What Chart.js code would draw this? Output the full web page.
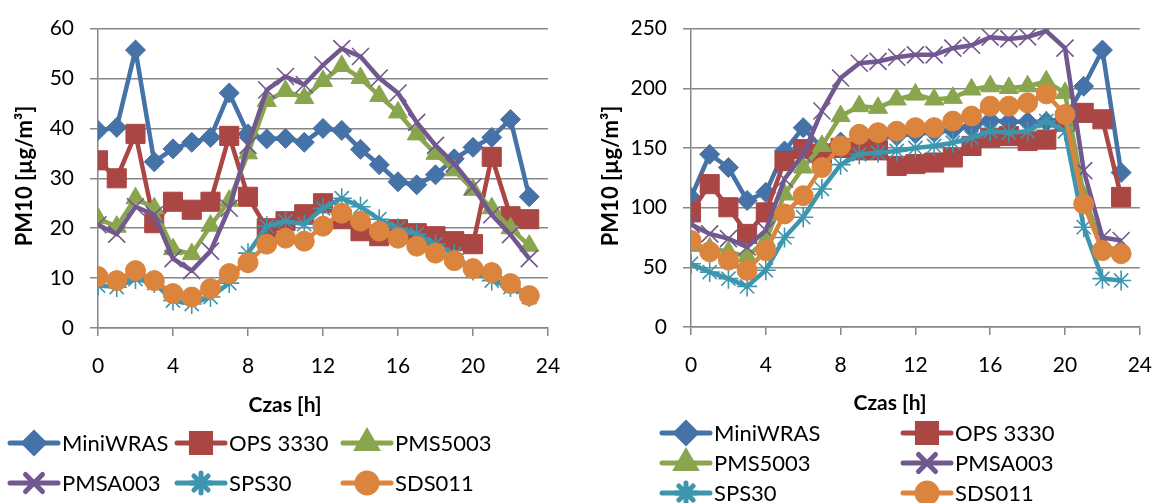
<!DOCTYPE html>
<html lang="pl">
<head>
  <meta charset="UTF-8">
  <title>PM10 – porównanie czujników</title>
  <style>
    html, body { margin: 0; padding: 0; background: #fff; }
    body { width: 1170px; height: 503px; position: relative; overflow: hidden; font-family: Lato, sans-serif; }
    canvas { position: absolute; top: 0; }
    #chartLeft { left: 0; }
    #chartRight { left: 585px; }
  </style>
</head>
<body>
  <canvas id="chartLeft" width="585" height="503"></canvas>
  <canvas id="chartRight" width="585" height="503"></canvas>

  <script src="https://cdn.jsdelivr.net/npm/chart.js"></script>
  <script>
    // hours of the day
    const hours = [0,1,2,3,4,5,6,7,8,9,10,11,12,13,14,15,16,17,18,19,20,21,22,23];
    const seriesNames = ['MiniWRAS', 'OPS 3330', 'PMS5003', 'PMSA003', 'SPS30', 'SDS011'];

    // left chart values (µg/m3)
    const leftMiniWRAS = [39.6,40.2,55.7,33.3,35.9,37.2,38.2,47.1,38.9,37.9,38,37.2,40,39.6,35.8,32.7,29.3,28.7,30.7,33.9,36.2,38.2,41.8,26.3];
    const leftOPS3330  = [33.6,30,38.9,21,25.3,23.7,25.3,38.5,26.3,20,21.4,22.8,25,21.8,19.4,18.4,19.8,19,18.4,17.4,16.8,34.3,22.4,21.8];
    const leftPMS5003  = [22,20.3,26,24,15.8,14.8,20.5,25.5,35,45.5,47.5,46.1,49.5,52.5,50.1,46.5,43.2,38.8,34.9,31.6,27.7,24,20,16.5];
    const leftPMSA003  = [20.7,18.8,24.3,22.7,13.9,11.5,15.4,24,36.6,47.7,50.4,48.8,52.7,56,54.4,50.1,47.1,41.2,36.6,32.9,28.3,22.7,18.7,13.9];
    const leftSPS30    = [8.5,8.2,9.8,9,5.5,4.8,6.2,9,15,20.4,21.4,20.8,24,26,24.3,21.8,20,18.8,16.8,14.8,11.5,9.5,8.2,6.2];
    const leftSDS011   = [10.3,9.5,11.5,9.5,6.9,6.2,7.9,10.9,13.1,16.8,18,17.4,20.4,23,21.4,19.4,18,16.4,15,13.5,11.9,11.1,8.9,6.5];

    // right chart values (µg/m3)
    const rightMiniWRAS = [108.6,144.7,133.6,106,112.8,147.5,167,150,155,157,158,160,162,163,165,168,173,172,172,172,175,201.7,232,129.4];
    const rightOPS3330  = [96,119.7,100.3,78,96,139,149,145,150,148,148,135,136.5,137.8,142,151.7,158.6,160,155.8,157,172,179.4,174,109];
    const rightPMS5003  = [68,66,63,59,72.5,111,133.6,151.7,176.7,185,183.6,190.6,194.7,190.6,192,199,201.7,200.3,201.7,205.8,196,110,68,64];
    const rightPMSA003  = [86,78,74,67,81,124,144.7,181,208.6,221,222.5,226,228,228,233.6,236,242.8,241.4,243,248,233.6,131,75,72.5];
    const rightSPS30    = [53,46,40.5,34,47.5,75,92,115.6,136,144.7,146,147.5,150,151.7,154.4,158.6,164,162.8,164,172.5,164,83.6,40.5,39];
    const rightSDS011   = [72.5,63,56,47.5,64,94.7,110,133.6,151.7,161.4,162.8,164,167,167,172.5,176.7,185,185,187.8,195.3,178,103,64,61.4];

    const colors = ['#4572A7', '#AA4643', '#89A54E', '#71588F', '#3D96AE', '#DB843D'];
    const markers = [
      { style: 'rectRot',  r: 10,   bw: 1 },
      { style: 'rect',     r: 13.5, bw: 1 },
      { style: 'triangle', r: 11,   bw: 1 },
      { style: 'crossRot', r: 12,   bw: 1.6 },
      { style: 'star',     r: 10,   bw: 1.6 },
      { style: 'circle',   r: 10,   bw: 1 }
    ];

    const gridColor = '#868686';

    function makeDatasets(values) {
      return values.map((vals, i) => ({
        label: seriesNames[i],
        data: hours.map((h, k) => ({ x: h, y: vals[k] })),
        borderColor: colors[i],
        backgroundColor: colors[i],
        borderWidth: 4.5,
        pointStyle: markers[i].style,
        pointRadius: markers[i].r,
        pointBorderWidth: markers[i].bw,
        pointBackgroundColor: colors[i],
        pointBorderColor: colors[i],
        tension: 0,
        order: values.length - i   // later series on top, like the original
      }));
    }

    // titles + legend drawn on top of the chart
    const overlay = {
      id: 'overlay',
      afterDraw(chart, args, o) {
        const ctx = chart.ctx;
        ctx.save();
        ctx.fillStyle = '#000';

        ctx.save();
        ctx.translate(o.yTitle[0], o.yTitle[1]);
        ctx.rotate(-Math.PI / 2);
        ctx.font = 'bold 22px Lato';
        ctx.textAlign = 'center';
        ctx.textBaseline = 'middle';
        ctx.fillText('PM10 [µg/m³]', 0, 0);
        ctx.restore();

        ctx.font = 'bold 21px Lato';
        ctx.textAlign = 'center';
        ctx.textBaseline = 'middle';
        ctx.fillText('Czas [h]', o.xTitle[0], o.xTitle[1]);

        o.legend.forEach((pos, i) => {
          const [x, y] = pos;
          ctx.strokeStyle = colors[i];
          ctx.fillStyle = colors[i];
          ctx.lineWidth = 5;
          ctx.lineCap = 'round';
          ctx.beginPath();
          ctx.moveTo(x, y);
          ctx.lineTo(x + 48, y);
          ctx.stroke();
          Chart.helpers.drawPoint(ctx, {
            pointStyle: markers[i].style,
            radius: markers[i].r,
            rotation: 0,
            borderWidth: markers[i].bw
          }, x + 24, y);
          ctx.fillStyle = '#000';
          ctx.font = '22px Lato';
          ctx.textAlign = 'left';
          ctx.textBaseline = 'middle';
          ctx.fillText(seriesNames[i], x + 52, y + 1);
        });
        ctx.restore();
      }
    };

    function makeChart(id, values, yMax, yStep, geo) {
      return new Chart(document.getElementById(id), {
        type: 'line',
        data: { datasets: makeDatasets(values) },
        plugins: [overlay],
        options: {
          responsive: false,
          animation: false,
          layout: { padding: { left: 0, right: geo.padRight, top: geo.padTop, bottom: geo.padBottom } },
          scales: {
            x: {
              type: 'linear', min: 0, max: 24,
              ticks: { stepSize: 4, color: '#000', font: { family: 'Lato', size: 21 }, padding: 18, maxRotation: 0 },
              grid: { drawOnChartArea: false, drawTicks: true, tickLength: 8, color: gridColor, lineWidth: 1.5 },
              border: { color: gridColor, width: 1.5 },
              afterFit: s => { s.height = 90; }
            },
            y: {
              min: 0, max: yMax,
              ticks: { stepSize: yStep, color: '#000', font: { family: 'Lato', size: 21 }, padding: 16 },
              grid: { color: gridColor, lineWidth: 1.5, tickLength: 8 },
              border: { color: gridColor, width: 1.5 },
              afterFit: s => { s.width = geo.yWidth; }
            }
          },
          plugins: {
            legend: { display: false },
            tooltip: { enabled: false },
            overlay: geo.overlay
          }
        }
      });
    }

    function build() {
      makeChart('chartLeft',
        [leftMiniWRAS, leftOPS3330, leftPMS5003, leftPMSA003, leftSPS30, leftSDS011],
        60, 10,
        { padRight: 37, padTop: 25, padBottom: 85, yWidth: 98,
          overlay: {
            yTitle: [25, 176], xTitle: [285, 405],
            legend: [[10, 443], [177, 443], [343, 443], [10, 483], [177, 483], [343, 483]]
          } });

      makeChart('chartRight',
        [rightMiniWRAS, rightOPS3330, rightPMS5003, rightPMSA003, rightSPS30, rightSDS011],
        250, 50,
        { padRight: 16, padTop: 27, padBottom: 86, yWidth: 106,
          overlay: {
            yTitle: [26, 176], xTitle: [305, 403],
            legend: [[77, 433], [318, 433], [77, 463], [318, 463], [77, 493], [318, 493]]
          } });
    }

    if (document.fonts && document.fonts.load) {
      Promise.all([document.fonts.load('22px Lato'), document.fonts.load('bold 22px Lato')])
        .then(build, build);
    } else {
      build();
    }
  </script>
</body>
</html>
